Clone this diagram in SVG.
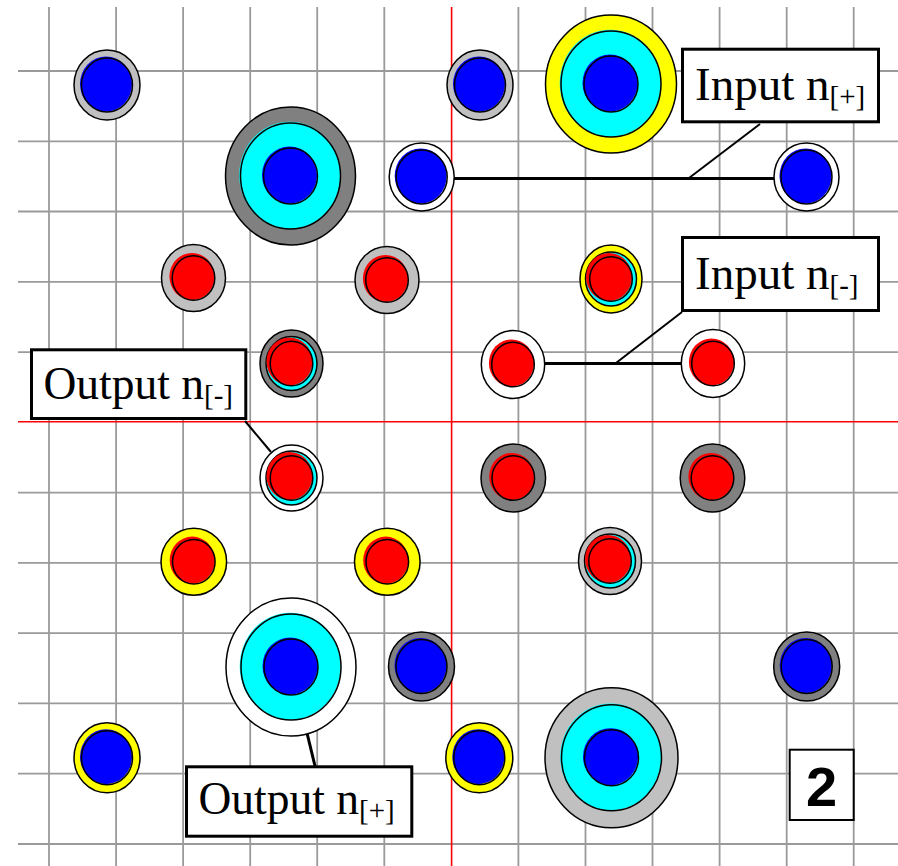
<svg xmlns="http://www.w3.org/2000/svg" xmlns:xlink="http://www.w3.org/1999/xlink" width="898" height="866" viewBox="0 0 898 866">
  <style>
    .grid line { stroke: #9a9a9a; stroke-width: 1.8; }
    .axis line { stroke: #ff0000; stroke-width: 1.6; }
    .ring { stroke: #000; stroke-width: 1.5; }
    .ln { fill: none; stroke: #000; stroke-width: 1.5; }
    .lg { fill: #c0c0c0; }
    .dg { fill: #808080; }
    .ye { fill: #ffff00; }
    .wh { fill: #ffffff; }
    .cy { fill: #00ffff; }
    .bl { fill: #0000ff; }
    .rd { fill: #ff0000; }
    .box { fill: #ffffff; stroke: #000; stroke-width: 3; }
    .lbl { font-family: "Liberation Serif", "Times New Roman", serif; fill: #000; }
    .num { font-family: "Liberation Sans", Arial, sans-serif; font-weight: bold; fill: #000; }
    .connectors line { stroke: #000; stroke-linecap: butt; }
  </style>
  <defs>
    <!-- small blue core: fill slightly offset up-left, outline centred -->
    <g id="blue-core">
      <ellipse class="bl" cx="-1" cy="-1" rx="26" ry="27.5"/>
      <ellipse class="ln" rx="25.5" ry="27"/>
    </g>
    <!-- small red core -->
    <g id="red-core">
      <ellipse class="rd" cx="-1.5" cy="-1.5" rx="22.6" ry="23.6"/>
      <ellipse class="ln" rx="21.3" ry="22.3"/>
    </g>
    <!-- red core sitting on a thin cyan ring -->
    <g id="red-cyan-core">
      <ellipse class="cy ring" rx="25.5" ry="27"/>
      <ellipse class="rd" cx="-2" cy="-2" rx="23" ry="24"/>
      <ellipse class="ln" rx="21.3" ry="22.3"/>
    </g>
    <!-- large target: cyan band and blue centre -->
    <g id="big-core">
      <ellipse class="cy" cx="-0.8" cy="-0.8" rx="50.5" ry="53.5"/>
      <ellipse class="ln" rx="50" ry="53"/>
      <ellipse class="bl" cx="-1" cy="-1" rx="27.5" ry="28.5"/>
      <ellipse class="ln" rx="27" ry="28"/>
    </g>
  </defs>

  <rect width="898" height="866" fill="#ffffff"/>

  <!-- background grid -->
  <g class="grid">
    <line x1="49" y1="7" x2="49" y2="866"/>
    <line x1="116.1" y1="7" x2="116.1" y2="866"/>
    <line x1="183.1" y1="7" x2="183.1" y2="866"/>
    <line x1="250.2" y1="7" x2="250.2" y2="866"/>
    <line x1="317.2" y1="7" x2="317.2" y2="866"/>
    <line x1="384.3" y1="7" x2="384.3" y2="866"/>
    <line x1="518.4" y1="7" x2="518.4" y2="866"/>
    <line x1="585.5" y1="7" x2="585.5" y2="866"/>
    <line x1="652.5" y1="7" x2="652.5" y2="866"/>
    <line x1="719.6" y1="7" x2="719.6" y2="866"/>
    <line x1="786.7" y1="7" x2="786.7" y2="866"/>
    <line x1="853.7" y1="7" x2="853.7" y2="866"/>
    <line x1="18" y1="71" x2="898" y2="71"/>
    <line x1="18" y1="141.3" x2="898" y2="141.3"/>
    <line x1="18" y1="211.5" x2="898" y2="211.5"/>
    <line x1="18" y1="281.8" x2="898" y2="281.8"/>
    <line x1="18" y1="352.1" x2="898" y2="352.1"/>
    <line x1="18" y1="492.6" x2="898" y2="492.6"/>
    <line x1="18" y1="562.9" x2="898" y2="562.9"/>
    <line x1="18" y1="633.2" x2="898" y2="633.2"/>
    <line x1="18" y1="703.4" x2="898" y2="703.4"/>
    <line x1="18" y1="773.7" x2="898" y2="773.7"/>
    <line x1="18" y1="844" x2="898" y2="844"/>
  </g>
  <g class="axis">
    <line x1="451.6" y1="7" x2="451.6" y2="866"/>
    <line x1="18" y1="421.8" x2="898" y2="421.8"/>
  </g>

  <!-- leader lines -->
  <g class="connectors">
    <line x1="454" y1="178.5" x2="775" y2="178.5" stroke-width="3"/>
    <line x1="760" y1="124" x2="689" y2="178" stroke-width="2"/>
    <line x1="544" y1="363.5" x2="681" y2="363.5" stroke-width="3"/>
    <line x1="682" y1="312" x2="616" y2="363" stroke-width="2"/>
    <line x1="245" y1="421" x2="271" y2="452" stroke-width="2"/>
    <line x1="307" y1="733" x2="315" y2="766" stroke-width="3"/>
  </g>

  <!-- blue markers -->
  <g id="n1" transform="translate(107,85)"><ellipse class="ring lg" rx="33" ry="35"/><use xlink:href="#blue-core"/></g>
  <g id="n2" transform="translate(480,85)"><ellipse class="ring lg" rx="33" ry="35"/><use xlink:href="#blue-core"/></g>
  <g id="n3" transform="translate(611,84)"><ellipse class="ring ye" rx="65.5" ry="69"/><use xlink:href="#big-core"/></g>
  <g id="n4" transform="translate(290.5,176)"><ellipse class="ring dg" rx="65" ry="69"/><use xlink:href="#big-core"/></g>
  <g id="n5" transform="translate(421.7,177)"><ellipse class="ring wh" rx="32.5" ry="34"/><use xlink:href="#blue-core"/></g>
  <g id="n6" transform="translate(806.5,177)"><ellipse class="ring wh" rx="32.5" ry="34"/><use xlink:href="#blue-core"/></g>

  <!-- red markers -->
  <g id="n7" transform="translate(193.5,278)"><ellipse class="ring lg" rx="32" ry="33.5"/><use xlink:href="#red-core"/></g>
  <g id="n8" transform="translate(387,280)"><ellipse class="ring lg" rx="32" ry="33.5"/><use xlink:href="#red-core"/></g>
  <g id="n9" transform="translate(611,279)"><ellipse class="ring ye" rx="31" ry="34"/><use xlink:href="#red-cyan-core"/></g>
  <g id="n10" transform="translate(291.5,363.5)"><ellipse class="ring dg" rx="31.5" ry="33.5"/><use xlink:href="#red-cyan-core"/></g>
  <g id="n11" transform="translate(513,364.5)"><ellipse class="ring wh" rx="31.7" ry="34"/><use xlink:href="#red-core"/></g>
  <g id="n12" transform="translate(713,363.5)"><ellipse class="ring wh" rx="31.7" ry="34"/><use xlink:href="#red-core"/></g>
  <g id="n13" transform="translate(291.5,478)"><ellipse class="ring wh" rx="31.5" ry="33"/><use xlink:href="#red-cyan-core"/></g>
  <g id="n14" transform="translate(513.3,478)"><ellipse class="ring dg" rx="32.3" ry="34"/><use xlink:href="#red-core"/></g>
  <g id="n15" transform="translate(712.5,478)"><ellipse class="ring dg" rx="32.3" ry="34"/><use xlink:href="#red-core"/></g>
  <g id="n16" transform="translate(193.8,561.7)"><ellipse class="ring ye" rx="32.8" ry="33.5"/><use xlink:href="#red-core"/></g>
  <g id="n17" transform="translate(387.3,561.7)"><ellipse class="ring ye" rx="32.8" ry="33.5"/><use xlink:href="#red-core"/></g>
  <g id="n18" transform="translate(610,561)"><ellipse class="ring lg" rx="31.5" ry="33.5"/><use xlink:href="#red-cyan-core"/></g>

  <!-- lower blue markers -->
  <g id="n19" transform="translate(291,667)"><ellipse class="ring wh" rx="65" ry="69"/><use xlink:href="#big-core"/></g>
  <g id="n20" transform="translate(421.5,666.5)"><ellipse class="ring dg" rx="33" ry="34.5"/><use xlink:href="#blue-core"/></g>
  <g id="n21" transform="translate(806.7,666.5)"><ellipse class="ring dg" rx="33" ry="34.5"/><use xlink:href="#blue-core"/></g>
  <g id="n22" transform="translate(107,757.7)"><ellipse class="ring ye" rx="33" ry="35"/><use xlink:href="#blue-core"/></g>
  <g id="n23" transform="translate(479.3,757.7)"><ellipse class="ring ye" rx="33.5" ry="35"/><use xlink:href="#blue-core"/></g>
  <g id="n24" transform="translate(611.5,757.7)"><ellipse class="ring lg" rx="66.5" ry="70"/><use xlink:href="#big-core"/></g>

  <!-- callout labels -->
  <g id="label-input-plus">
    <rect class="box" x="682.5" y="49.2" width="196" height="72.6"/>
    <text class="lbl" x="695" y="100" font-size="47">Input n<tspan font-size="29" dy="6">[+]</tspan></text>
  </g>
  <g id="label-input-minus">
    <rect class="box" x="682.5" y="237.5" width="196" height="73"/>
    <text class="lbl" x="695" y="288.5" font-size="47">Input n<tspan font-size="29" dy="6">[-]</tspan></text>
  </g>
  <g id="label-output-minus">
    <rect class="box" x="31.5" y="349.8" width="214.3" height="68.7"/>
    <text class="lbl" x="43.5" y="399.3" font-size="45.5">Output n<tspan font-size="29" dy="6">[-]</tspan></text>
  </g>
  <g id="label-output-plus">
    <rect class="box" x="186.5" y="766.8" width="225.3" height="69.4"/>
    <text class="lbl" x="198.5" y="814.3" font-size="45.5">Output n<tspan font-size="29" dy="6">[+]</tspan></text>
  </g>
  <g id="panel-number">
    <rect x="789.7" y="749.7" width="64" height="70.3" fill="#ffffff" stroke="#000" stroke-width="2"/>
    <text class="num" x="821.7" y="806" font-size="56" text-anchor="middle">2</text>
  </g>
</svg>
